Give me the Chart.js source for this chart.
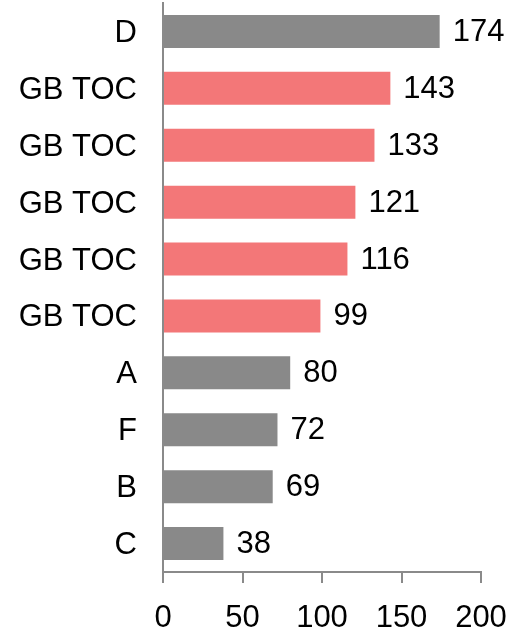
<!DOCTYPE html>
<html lang="en">
<head>
    <meta charset="UTF-8">
    <title>Bar chart</title>
    <script src="https://cdn.jsdelivr.net/npm/chart.js"></script>
    <style>
        body {
            margin: 0;
            background-color: #fff;
        }
    </style>
</head>
<body>
    <canvas id="myChart" width="510" height="633"></canvas>
    <script>
        // Data
        const categories = ['D', 'GB TOC', 'GB TOC', 'GB TOC', 'GB TOC', 'GB TOC', 'A', 'F', 'B', 'C'];
        const values = [174, 143, 133, 121, 116, 99, 80, 72, 69, 38];
        const highlighted = [false, true, true, true, true, true, false, false, false, false];
        const xTicks = [0, 50, 100, 150, 200];

        const grayColor = '#898989';
        const redColor = '#F37778';
        const axisColor = '#8a8a8a';
        const fontFamily = "'Liberation Sans', Arial, sans-serif";

        // draws the number at the end of each bar
        const valueLabels = {
            id: 'valueLabels',
            afterDatasetsDraw(chart) {
                const ctx = chart.ctx;
                const meta = chart.getDatasetMeta(0);
                ctx.save();
                ctx.font = '31px ' + fontFamily;
                ctx.fillStyle = '#000';
                ctx.textAlign = 'left';
                ctx.textBaseline = 'middle';
                meta.data.forEach((bar, i) => {
                    ctx.fillText(String(values[i]), bar.x + 13, bar.y + 1);
                });
                ctx.restore();
            }
        };

        const ctx = document.getElementById('myChart').getContext('2d');
        new Chart(ctx, {
            type: 'bar',
            data: {
                labels: categories,
                datasets: [{
                    data: values,
                    backgroundColor: highlighted.map(h => h ? redColor : grayColor),
                    borderWidth: 0,
                    barPercentage: 0.58,
                    categoryPercentage: 1.0
                }]
            },
            options: {
                indexAxis: 'y',
                responsive: false,
                animation: false,
                layout: {
                    padding: { top: 3, right: 29, left: 0, bottom: 0 }
                },
                plugins: {
                    legend: { display: false },
                    tooltip: { enabled: false }
                },
                scales: {
                    x: {
                        min: xTicks[0],
                        max: xTicks[xTicks.length - 1],
                        afterBuildTicks(scale) {
                            scale.ticks = xTicks.map(v => ({ value: v }));
                        },
                        afterFit(scale) {
                            scale.height = 61;
                            // no extra room for the end labels, the layout padding handles it
                            scale.paddingLeft = 0;
                            scale.paddingRight = 0;
                        },
                        grid: {
                            drawOnChartArea: false,
                            color: axisColor,
                            lineWidth: 2,
                            tickLength: 11
                        },
                        border: { color: axisColor, width: 2 },
                        ticks: {
                            color: '#000',
                            padding: 17,
                            maxRotation: 0,
                            font: { family: fontFamily, size: 31 }
                        }
                    },
                    y: {
                        afterFit(scale) {
                            scale.width = 163;
                            scale.paddingTop = 0;
                            scale.paddingBottom = 0;
                        },
                        grid: { display: false },
                        border: { color: axisColor, width: 2 },
                        ticks: {
                            color: '#000',
                            padding: 18,
                            labelOffset: 2,
                            autoSkip: false,
                            font: { family: fontFamily, size: 31 }
                        }
                    }
                }
            },
            plugins: [valueLabels]
        });
    </script>
</body>
</html>
